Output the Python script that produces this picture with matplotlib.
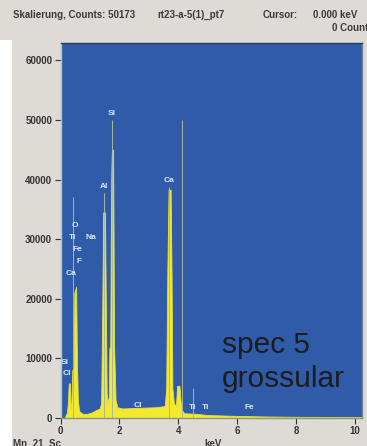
import matplotlib

matplotlib.use("Agg")
import matplotlib.pyplot as plt
from matplotlib.patches import Rectangle

# EDS spectrum outline (keV, counts)
energy_kev = [0.00, 0.15, 0.18, 0.22, 0.25, 0.28, 0.32, 0.34, 0.37, 0.40,
              0.45, 0.47, 0.53, 0.56, 0.59, 0.63, 0.75, 0.90, 1.05, 1.20,
              1.33, 1.38, 1.42, 1.45, 1.51, 1.54, 1.57, 1.61, 1.64, 1.66,
              1.69, 1.71, 1.73, 1.745, 1.785, 1.80, 1.82, 1.87, 1.93, 2.10,
              2.60, 3.20, 3.54, 3.59, 3.63, 3.67, 3.74, 3.77, 3.80, 3.85,
              3.92, 3.96, 4.04, 4.10, 4.20, 4.60, 5.00, 6.00, 7.00, 8.00,
              10.24]
counts = [0, 0, 500, 900, 2500, 5800, 5800, 1500, 2500, 8000,
          8500, 21000, 22000, 9000, 3000, 1200, 700, 700, 900, 1300,
          1600, 2500, 19000, 34500, 34500, 19000, 4000, 2500, 3500, 11700,
          12000, 32000, 42000, 45000, 45000, 32000, 12000, 3000, 1800, 1600,
          1700, 1800, 2000, 5000, 25000, 38300, 38300, 25000, 5000, 2500,
          2000, 5400, 5400, 1500, 800, 700, 500, 350, 250, 200,
          150]

# thin marker lines (keV, top count)
marker_kev = [0.42, 1.48, 1.76, 3.70, 4.12, 4.49]
marker_top = [37000, 37700, 50000, 38800, 50000, 5000]

# element labels (text, keV, counts)
label_text = ["Si", "Al", "Ca", "O", "Ti", "Na", "Fe", "F", "Ca", "Si", "Cl",
              "Cl", "Ti", "Ti", "Fe"]
label_kev = [1.75, 1.48, 3.68, 0.49, 0.42, 1.04, 0.56, 0.63, 0.36, 0.15, 0.22,
             2.63, 4.50, 4.91, 6.40]
label_cnt = [51100, 38900, 39900, 32350, 30340, 30340, 28330, 26320, 24310,
             9390, 7540, 2180, 1680, 1680, 1680]

y_ticks = [0, 10000, 20000, 30000, 40000, 50000, 60000]
x_ticks = [0, 2, 4, 6, 8, 10]

BG = "#dedad6"
BLUE = "#2f5ba9"
YELLOW = "#f2e930"
FONT = "Liberation Sans"

fig = plt.figure(figsize=(3.67, 4.46), dpi=100, facecolor=BG)
fig.patches.append(Rectangle((0, 0), 12 / 367, 406 / 446, transform=fig.transFigure,
                             facecolor="white", edgecolor="none", zorder=0))

ax = fig.add_axes([60.5 / 367, 28 / 446, 301.5 / 367, 375 / 446])
ax.set_facecolor(BLUE)
ax.fill_between(energy_kev, counts, 0, color=YELLOW, linewidth=0.6, edgecolor="#e8e040")
ax.vlines(marker_kev, 0, marker_top, color="#a8b89c", linewidth=0.7)

for t, e, c in zip(label_text, label_kev, label_cnt):
    ax.text(e, c, t, color="#dbe7ff", fontsize=6, fontweight="bold", family=FONT,
            ha="center", va="center")

ax.set_xlim(0, 10.24)
ax.set_ylim(0, 62900)
ax.set_xticks(x_ticks)
ax.set_xticklabels([str(v) for v in x_ticks])
ax.set_yticks(y_ticks)
ax.set_yticklabels([str(v) for v in y_ticks])
ax.tick_params(length=4, width=0.8, color="#333333", labelsize=7, labelcolor="#333333", pad=2)
for lab in ax.get_xticklabels() + ax.get_yticklabels():
    lab.set_family(FONT)
    lab.set_fontweight("bold")
ax.spines["left"].set_color("#9ccccc")
ax.spines["bottom"].set_color("#8a9a70")
ax.spines["right"].set_color("#7a8696")
ax.spines["top"].set_color("#2a3a60")
for s in ax.spines.values():
    s.set_linewidth(1.0)

ax.text(0.536, 0.173, "spec 5", transform=ax.transAxes, fontsize=21.5, family=FONT,
        color="#1c1c1c", ha="left", va="baseline")
ax.text(0.536, 0.083, "grossular", transform=ax.transAxes, fontsize=21.5, family=FONT,
        color="#1c1c1c", ha="left", va="baseline")

hdr = dict(fontsize=7, fontweight="bold", family=FONT, color="#3a3a3a", va="center")
fig.text(13 / 367, 1 - 15 / 446, "Skalierung, Counts: 50173", ha="left", **hdr)
fig.text(157 / 367, 1 - 15 / 446, "rt23-a-5(1)_pt7", ha="left", **hdr)
fig.text(263 / 367, 1 - 15 / 446, "Cursor:", ha="left", **hdr)
fig.text(313 / 367, 1 - 15 / 446, "0.000 keV", ha="left", **hdr)
fig.text(332 / 367, 1 - 28 / 446, "0 Counts", ha="left", **hdr)
fig.text(13 / 367, 1 - 444 / 446, "Mn  21  Sc", ha="left", **hdr)
fig.text(204 / 367, 1 - 444 / 446, "keV", ha="left", **hdr)

fig.savefig("out.png", dpi=100, facecolor=BG)
